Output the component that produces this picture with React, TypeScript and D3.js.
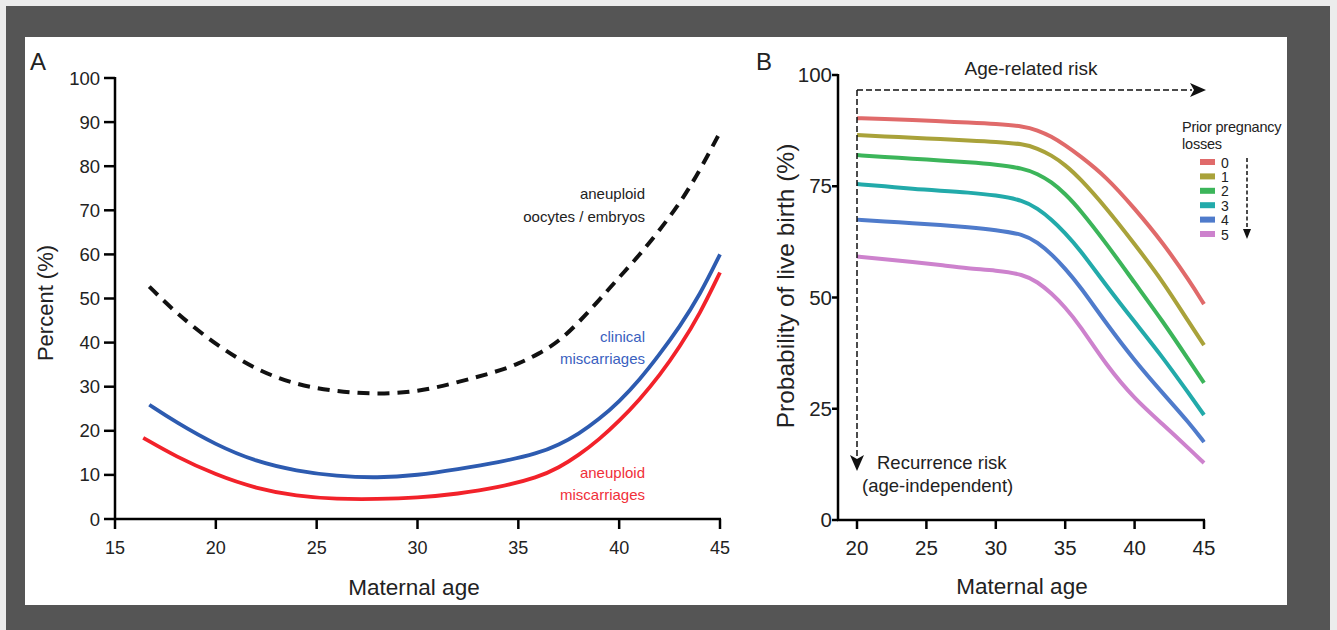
import React from "react";
import * as d3 from "d3";

const W = 1337;
const H = 630;
const FONT = "'Liberation Sans', Arial, sans-serif";

// panel A data
const aneuploidAges = [16.7, 18, 20, 22, 24, 26, 28, 30, 32, 34, 35, 36, 37, 38, 39, 40, 41, 42, 43, 44, 45];
const aneuploidEmbryos = [52.7, 46.8, 39.5, 33.8, 30.4, 28.9, 28.3, 28.8, 31, 33.5, 35.2, 37.4, 40.2, 44.6, 49.6, 54.8, 59.8, 65.5, 71.5, 79, 87.7];
const clinicalAges = [16.7, 18, 20, 22, 24, 26, 28, 30, 32, 34, 36, 37, 38, 39, 40, 41, 42, 43, 44, 45];
const clinicalMisc = [25.9, 22, 16.8, 13, 10.9, 9.7, 9.3, 9.9, 11.3, 12.8, 14.9, 16.8, 19.3, 22.6, 26.6, 31.5, 37.3, 43.6, 50.8, 60];
const aneuMiscAges = [16.4, 18, 20, 22, 24, 26, 28, 30, 32, 34, 36, 37, 38, 39, 40, 41, 42, 43, 44, 45];
const aneuploidMisc = [18.4, 14.2, 10, 6.9, 5.2, 4.5, 4.5, 4.8, 5.7, 7.1, 9.5, 11.6, 14.5, 18, 22.2, 27, 32.5, 39, 46.5, 55.9];
const ticksAX = [15, 20, 25, 30, 35, 40, 45];
const ticksAY = [0, 10, 20, 30, 40, 50, 60, 70, 80, 90, 100];

// panel B data
const agesB = [20, 22, 24, 26, 28, 30, 32, 33, 34, 35, 36, 38, 40, 42, 44, 45];
const losses0 = [90.3, 90.1, 89.9, 89.6, 89.3, 89.0, 88.5, 87.6, 86.2, 84.2, 82, 77, 70, 62.5, 53.5, 48.5];
const losses1 = [86.5, 86.2, 85.9, 85.6, 85.3, 85.0, 84.5, 83.5, 82, 79.8, 77, 70, 62, 53.8, 44, 39.3];
const losses2 = [82, 81.6, 81.2, 80.8, 80.4, 79.9, 79, 77.8, 76, 73.3, 70, 62, 53.3, 44.8, 35.5, 30.8];
const losses3 = [75.5, 75, 74.4, 74, 73.6, 73, 71.8, 70, 67.6, 64.5, 61, 52.5, 44.5, 36.7, 28, 23.6];
const losses4 = [67.5, 67.1, 66.7, 66.3, 65.8, 65.2, 64.2, 62.4, 59.8, 56.5, 52.8, 44, 35.8, 28.6, 21.6, 17.5];
const losses5 = [59.2, 58.6, 58, 57.3, 56.5, 56.1, 55.2, 53.5, 51, 47.8, 44, 34.6, 27.2, 21.6, 15.8, 12.8];
const lossLabels = ["0", "1", "2", "3", "4", "5"];
const lossColors = ["#e06a6a", "#a9a23a", "#3cb55a", "#22aaaa", "#4f7bcb", "#cd82cd"];
const ticksBX = [20, 25, 30, 35, 40, 45];
const ticksBY = [0, 25, 50, 75, 100];

export default function App() {
  // scales A
  const xA = d3.scaleLinear().domain([15, 45]).range([115, 720]);
  const yA = d3.scaleLinear().domain([0, 100]).range([519, 78]);
  // scales B
  const xB = d3.scaleLinear().domain([20, 45]).range([857, 1204]);
  const yB = d3.scaleLinear().domain([0, 100]).range([520, 75]);

  const lineA = (ages: number[], vals: number[]) =>
    d3
      .line<number>()
      .x((d, i) => xA(ages[i]))
      .y((d) => yA(d))
      .curve(d3.curveBasis)(vals) || "";

  const lineB = d3
    .line<number>()
    .x((d, i) => xB(agesB[i]))
    .y((d) => yB(d))
    .curve(d3.curveBasis);

  const seriesB = [losses0, losses1, losses2, losses3, losses4, losses5];

  return (
    <svg
      width={W}
      height={H}
      style={{ position: "absolute", left: 0, top: 0, fontFamily: FONT }}
    >
      <rect x={0} y={0} width={W} height={H} fill="#ececec" />
      <rect x={6} y={6} width={1324} height={H} fill="#555555" />
      <rect x={25} y={37} width={1262} height={568} fill="#ffffff" />

      {/* panel A */}
      <text x={30} y={70} fontSize={24} fill="#222">A</text>
      <g>
        {ticksAY.map((t) => (
          <g key={t}>
            <line x1={104} x2={115} y1={yA(t)} y2={yA(t)} stroke="#000" strokeWidth={2.5} />
            <text x={100} y={yA(t) + 6.5} textAnchor="end" fontSize={18.5} fill="#222">{t}</text>
          </g>
        ))}
        {ticksAX.map((t) => (
          <g key={t}>
            <line x1={xA(t)} x2={xA(t)} y1={519} y2={529} stroke="#000" strokeWidth={2.5} />
            <text x={xA(t)} y={554} textAnchor="middle" fontSize={18} fill="#222">{t}</text>
          </g>
        ))}
        <line x1={115} x2={115} y1={77} y2={520} stroke="#000" strokeWidth={2.5} />
        <line x1={114} x2={721} y1={519} y2={519} stroke="#000" strokeWidth={2.5} />
      </g>
      <text x={414} y={595} textAnchor="middle" fontSize={22.5} fill="#222">Maternal age</text>
      <text
        transform={`translate(53,303) rotate(-90)`}
        textAnchor="middle"
        fontSize={22}
        fill="#222"
      >
        Percent (%)
      </text>
      <path d={lineA(aneuploidAges, aneuploidEmbryos)} fill="none" stroke="#111" strokeWidth={4} strokeDasharray="12 8" />
      <path d={lineA(clinicalAges, clinicalMisc)} fill="none" stroke="#2d5bb0" strokeWidth={3.8} />
      <path d={lineA(aneuMiscAges, aneuploidMisc)} fill="none" stroke="#f2222a" strokeWidth={3.8} />
      <text x={645} y={199} textAnchor="end" fontSize={15} fill="#222">aneuploid</text>
      <text x={645} y={222} textAnchor="end" fontSize={15} fill="#222">oocytes / embryos</text>
      <text x={645} y={342} textAnchor="end" fontSize={15} fill="#3a5fc0">clinical</text>
      <text x={645} y={364} textAnchor="end" fontSize={15} fill="#3a5fc0">miscarriages</text>
      <text x={645} y={478} textAnchor="end" fontSize={15} fill="#f0303a">aneuploid</text>
      <text x={645} y={500} textAnchor="end" fontSize={15} fill="#f0303a">miscarriages</text>

      {/* panel B */}
      <text x={756} y={70} fontSize={24} fill="#222">B</text>
      {ticksBY.map((t) => (
        <g key={t}>
          <line x1={832} x2={838} y1={yB(t)} y2={yB(t)} stroke="#000" strokeWidth={2.5} />
          <text x={832} y={yB(t) + 7} textAnchor="end" fontSize={20.5} fill="#222">{t}</text>
        </g>
      ))}
      {ticksBX.map((t) => (
        <g key={t}>
          <line x1={xB(t)} x2={xB(t)} y1={520} y2={529} stroke="#000" strokeWidth={2.5} />
          <text x={xB(t)} y={555} textAnchor="middle" fontSize={20.5} fill="#222">{t}</text>
        </g>
      ))}
      <line x1={838} x2={838} y1={74} y2={521} stroke="#000" strokeWidth={2.5} />
      <line x1={837} x2={1205} y1={520} y2={520} stroke="#000" strokeWidth={2.5} />
      <text x={1022} y={594} textAnchor="middle" fontSize={22.5} fill="#222">Maternal age</text>
      <text
        transform={`translate(794,286) rotate(-90)`}
        textAnchor="middle"
        fontSize={24.5}
        fill="#222"
      >
        Probability of live birth (%)
      </text>

      {seriesB.map((s, i) => (
        <path key={i} d={lineB(s) || ""} fill="none" stroke={lossColors[i]} strokeWidth={4} />
      ))}

      {/* risk arrows */}
      <path d={`M${xB(20)},90 H1192`} stroke="#111" strokeWidth={1.5} strokeDasharray="6 3" fill="none" />
      <path d="M1190,83 L1206,90 L1190,97 L1194,90 Z" fill="#111" />
      <path d={`M${xB(20)},90 V458`} stroke="#111" strokeWidth={1.5} strokeDasharray="6 3" fill="none" />
      <path d={`M${xB(20) - 7},455 L${xB(20)},471 L${xB(20) + 7},455 L${xB(20)},459 Z`} fill="#111" />
      <text x={1031} y={75} textAnchor="middle" fontSize={19} fill="#222">Age-related risk</text>
      <text x={877} y={469} fontSize={18.5} fill="#222">Recurrence risk</text>
      <text x={862} y={492} fontSize={18.5} fill="#222">(age-independent)</text>

      {/* legend */}
      <text x={1182} y={132} fontSize={14.5} fill="#222" letterSpacing={-0.2}>Prior pregnancy</text>
      <text x={1182} y={149} fontSize={14.5} fill="#222" letterSpacing={-0.2}>losses</text>
      {lossLabels.map((l, i) => (
        <g key={l}>
          <rect x={1200} y={159 + i * 14.4} width={15} height={6} fill={lossColors[i]} />
          <text x={1221} y={167.5 + i * 14.4} fontSize={14} fill="#222">{l}</text>
        </g>
      ))}
      <path d="M1247,158 V232" stroke="#111" strokeWidth={1.5} strokeDasharray="4 2.5" fill="none" />
      <path d="M1243,229 L1247,239 L1251,229 Z" fill="#111" />
    </svg>
  );
}
